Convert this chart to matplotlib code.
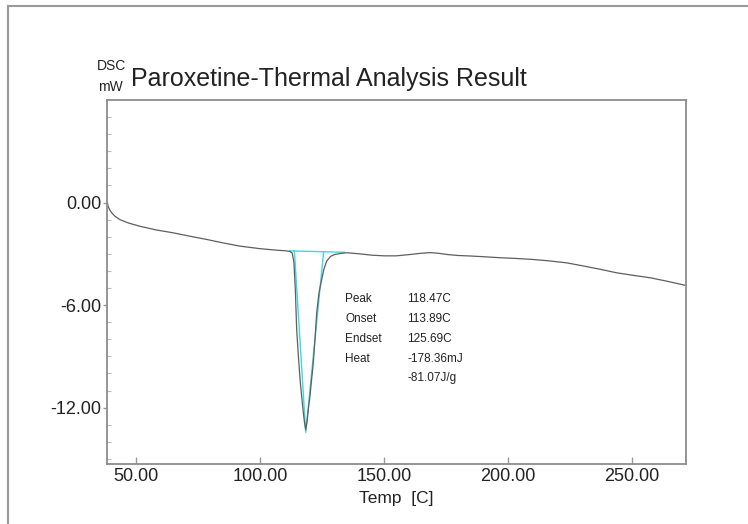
import matplotlib.pyplot as plt
from matplotlib.lines import Line2D

plt.rcParams['font.family'] = ['Liberation Sans', 'DejaVu Sans']

# DSC curve
temp = [38.3, 38.8, 39.5, 40.2, 41.5, 43.5, 47, 51.6, 58, 64.9, 71, 78.5, 85, 91.9,
        100, 106, 110, 112, 113, 113.7, 114.3, 114.8, 115.5, 116.2, 116.8, 117.5,
        118.0, 118.47, 119.0, 119.6, 120.2, 120.8, 121.5, 122.2, 122.9, 123.8,
        124.9, 125.8, 126.9, 128.5, 130.2, 132.5, 135, 140, 145, 150, 155, 160,
        165, 168.5, 172, 176, 180, 185, 190, 196.8, 203, 210, 217, 223.7, 230,
        237, 243.8, 250, 257.3, 264, 271.4]
dsc = [0.1, -0.25, -0.45, -0.6, -0.8, -1.0, -1.2, -1.39, -1.6, -1.77, -1.95, -2.16,
       -2.36, -2.55, -2.7, -2.78, -2.82, -2.86, -2.95, -3.5, -5.2, -7.4, -9.0,
       -10.4, -11.3, -12.3, -12.9, -13.3, -12.8, -12.0, -11.3, -10.4, -9.4, -8.0,
       -6.45, -5.3, -4.5, -3.9, -3.43, -3.15, -3.04, -2.98, -2.94, -3.0, -3.08,
       -3.12, -3.12, -3.05, -2.97, -2.93, -2.97, -3.05, -3.1, -3.13, -3.17, -3.23,
       -3.27, -3.33, -3.42, -3.53, -3.7, -3.9, -4.11, -4.25, -4.4, -4.6, -4.84]

# analysis lines (cyan)
base_t = [112, 134]
base_v = [-2.83, -2.91]
peak_t, peak_v = 118.47, -13.45
onset_t, endset_t = 113.89, 125.69

labels = ['Peak', 'Onset', 'Endset', 'Heat', '']
values = ['118.47C', '113.89C', '125.69C', '-178.36mJ', '-81.07J/g']

fig = plt.figure(figsize=(7.48, 5.24), dpi=100)
ax = fig.add_axes([0.143, 0.1145, 0.774, 0.6947])

cyan = '#3fd8e2'
ax.plot(base_t, base_v, color=cyan, lw=1)
ax.plot([onset_t, peak_t, endset_t], [-2.84, peak_v, -2.88], color=cyan, lw=1)
ax.plot(temp, dsc, color='#5e5e5e', lw=0.9)

ax.set_xlim(38.3, 271.8)
ax.set_ylim(-15.3, 6.0)
ax.set_xticks([50, 100, 150, 200, 250])
ax.set_yticks([0, -6, -12])
ax.set_yticks(range(-15, 6), minor=True)
ax.set_xticklabels(['%.2f' % v for v in [50, 100, 150, 200, 250]])
ax.set_yticklabels(['%.2f' % v for v in [0, -6, -12]])
ax.tick_params(axis='x', direction='in', length=5, width=1, color='#999999',
               labelsize=13, labelcolor='#222222', pad=3)
ax.tick_params(axis='y', which='major', direction='out', length=3, width=1,
               color='#999999', labelsize=13, labelcolor='#222222', pad=1)
ax.tick_params(axis='y', which='minor', direction='in', length=3, width=0.8,
               color='#bbbbbb')
for s in ax.spines.values():
    s.set_color('#8c8c8c')
    s.set_linewidth(1.3)

ax.set_xlabel('Temp  [C]', fontsize=12.5, color='#222222', labelpad=4)

for i, (lab, val) in enumerate(zip(labels, values)):
    y = 0.453 - i * 0.0545
    ax.text(0.412, y, lab, transform=ax.transAxes, fontsize=8.5,
            color='#222222', va='center')
    ax.text(0.519, y, val, transform=ax.transAxes, fontsize=8.5,
            color='#222222', va='center')

fig.text(0.175, 0.836, 'Paroxetine-Thermal Analysis Result', fontsize=18,
         color='#222222', va='baseline')
fig.text(0.130, 0.874, 'DSC', fontsize=10, color='#222222', va='center')
fig.text(0.131, 0.834, 'mW', fontsize=10, color='#222222', va='center')

# outer frame
fig.add_artist(Line2D([8 / 748, 8 / 748], [0, 1 - 6 / 524], transform=fig.transFigure,
                      color='#9a9a9a', lw=1.5))
fig.add_artist(Line2D([8 / 748, 1], [1 - 6 / 524, 1 - 6 / 524], transform=fig.transFigure,
                      color='#9a9a9a', lw=1.5))

fig.savefig('out.png', dpi=100)
